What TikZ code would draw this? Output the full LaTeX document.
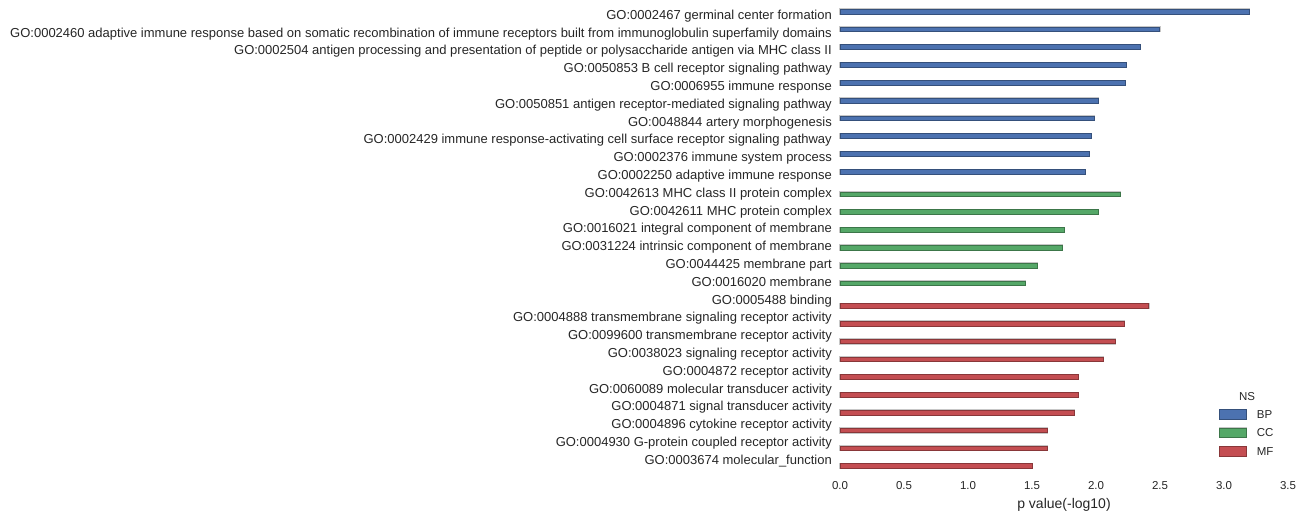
\documentclass[tikz,border=0pt]{standalone}
\usepackage{fontspec}
\setmainfont{Liberation Sans}
\usepackage{tikz}
\definecolor{bpblue}{HTML}{4C72B0}
\definecolor{ccgreen}{HTML}{55A868}
\definecolor{mfred}{HTML}{C44E52}
\definecolor{textgray}{HTML}{262626}

\begin{document}
\begin{tikzpicture}
  [x=128pt, y=-17.8pt,
   bar/.style={fill=#1, draw=#1!70!black, line width=0.6pt,
               preaction={draw=black!22, line width=1.6pt}},
   golabel/.style={anchor=base east, inner sep=0pt, xshift=-8pt, yshift=-3pt,
                   text=textgray, font={\fontsize{13pt}{15pt}\selectfont}},
   ticklabel/.style={anchor=base, inner sep=0pt, text=textgray,
                     font={\fontsize{11.5pt}{13pt}\selectfont}},
   legpatch/.style={rectangle, inner sep=0pt, minimum width=26.7pt, minimum height=9.7pt},
   legtext/.style={inner sep=0pt, text=textgray, font={\fontsize{11.5pt}{13pt}\selectfont}}]
  \useasboundingbox (-840pt,16.25pt) rectangle (463pt,-501.75pt);
  % bars, one hue per namespace
  \foreach \v [count=\i from 0] in {3.195,2.498,2.349,2.239,2.229,2.018,1.989,1.965,1.950,1.918}
    \draw [bar=bpblue] (0,\i-0.4) rectangle (\v,\i-0.1333);
  \foreach \v [count=\i from 10] in {2.192,2.018,1.754,1.738,1.543,1.449}
    \draw [bar=ccgreen] (0,\i-0.1333) rectangle (\v,\i+0.1333);
  \foreach \v [count=\i from 16] in {2.412,2.224,2.153,2.059,1.864,1.864,1.832,1.621,1.621,1.503}
    \draw [bar=mfred] (0,\i+0.1333) rectangle (\v,\i+0.4);
  % GO term labels
  \foreach \i/\t in {0/GO:0002467 germinal center formation,
      1/GO:0002460 adaptive immune response based on somatic recombination of immune receptors built from immunoglobulin superfamily domains,
      2/GO:0002504 antigen processing and presentation of peptide or polysaccharide antigen via MHC class II,
      3/GO:0050853 B cell receptor signaling pathway,
      4/GO:0006955 immune response,
      5/GO:0050851 antigen receptor-mediated signaling pathway,
      6/GO:0048844 artery morphogenesis,
      7/GO:0002429 immune response-activating cell surface receptor signaling pathway,
      8/GO:0002376 immune system process,
      9/GO:0002250 adaptive immune response,
      10/GO:0042613 MHC class II protein complex,
      11/GO:0042611 MHC protein complex,
      12/GO:0016021 integral component of membrane,
      13/GO:0031224 intrinsic component of membrane,
      14/GO:0044425 membrane part,
      15/GO:0016020 membrane,
      16/GO:0005488 binding,
      17/GO:0004888 transmembrane signaling receptor activity,
      18/GO:0099600 transmembrane receptor activity,
      19/GO:0038023 signaling receptor activity,
      20/GO:0004872 receptor activity,
      21/GO:0060089 molecular transducer activity,
      22/GO:0004871 signal transducer activity,
      23/GO:0004896 cytokine receptor activity,
      24/GO:0004930 G-protein coupled receptor activity,
      25/GO:0003674 molecular\_function}
    \node at (0,\i) (go\i) [golabel] {\t};
  % x axis
  \foreach \x [count=\k] in {0.0,0.5,1.0,1.5,2.0,2.5,3.0,3.5}
    \node at (\x,26.56) (tick\k) [ticklabel] {\x};
  \node at (1.75,27.63) (xlab) [ticklabel, font={\fontsize{14pt}{16pt}\selectfont}] {p value(-log10)};
  % legend
  \node at (3.1797,21.35) (nstitle) [legtext] {NS};
  \node at (3.0676,22.354) (legbp) [legpatch, bar=bpblue] {};
  \node at (3.0676,23.404) (legcc) [legpatch, bar=ccgreen] {};
  \node at (3.0676,24.452) (legmf) [legpatch, bar=mfred] {};
  \node at (3.2555,22.354) (legbptext) [legtext, anchor=west] {BP};
  \node at (3.2555,23.404) (legcctext) [legtext, anchor=west] {CC};
  \node at (3.2555,24.452) (legmftext) [legtext, anchor=west] {MF};
\end{tikzpicture}
\end{document}
